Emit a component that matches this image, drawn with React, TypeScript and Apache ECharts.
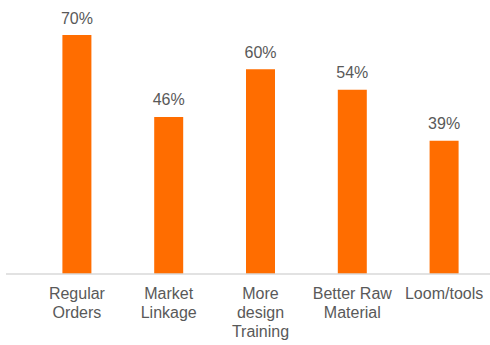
import React, { useEffect, useRef } from "react";
import * as echarts from "echarts";

const categories = ["Regular\nOrders", "Market\nLinkage", "More\ndesign\nTraining", "Better Raw\nMaterial", "Loom/tools"];
const values = [70, 46, 60, 54, 39];

export default function App() {
  const ref = useRef<HTMLDivElement>(null);
  useEffect(() => {
    if (!ref.current) return;
    const chart = echarts.init(ref.current, null, { renderer: "svg" });
    chart.setOption({
      animation: false,
      grid: { left: 31, top: 35, width: 461, bottom: 71 },
      xAxis: {
        type: "category",
        data: categories,
        axisLine: { show: false },
        axisTick: { show: false },
        axisLabel: {
          interval: 0,
          color: "#595959",
          fontFamily: "Liberation Sans, Arial, sans-serif",
          fontSize: 16,
          lineHeight: 19,
          margin: 10,
        },
      },
      yAxis: {
        type: "value",
        min: 0,
        max: 70,
        show: false,
        splitLine: { show: false },
      },
      graphic: [
        {
          type: "line",
          shape: { x1: 6, y1: 274, x2: 490, y2: 274 },
          style: { stroke: "#d9d9d9", lineWidth: 1.5 },
          z: 10,
        },
      ],
      series: [
        {
          type: "bar",
          data: values,
          barWidth: 29,
          itemStyle: { color: "#ff6d00" },
          label: {
            show: true,
            position: "top",
            distance: 9,
            formatter: "{c}%",
            color: "#595959",
            fontFamily: "Liberation Sans, Arial, sans-serif",
            fontSize: 16,
          },
        },
      ],
    });
    return () => chart.dispose();
  }, []);
  return <div ref={ref} style={{ position: "absolute", left: 0, top: 0, width: 490, height: 345 }} />;
}
